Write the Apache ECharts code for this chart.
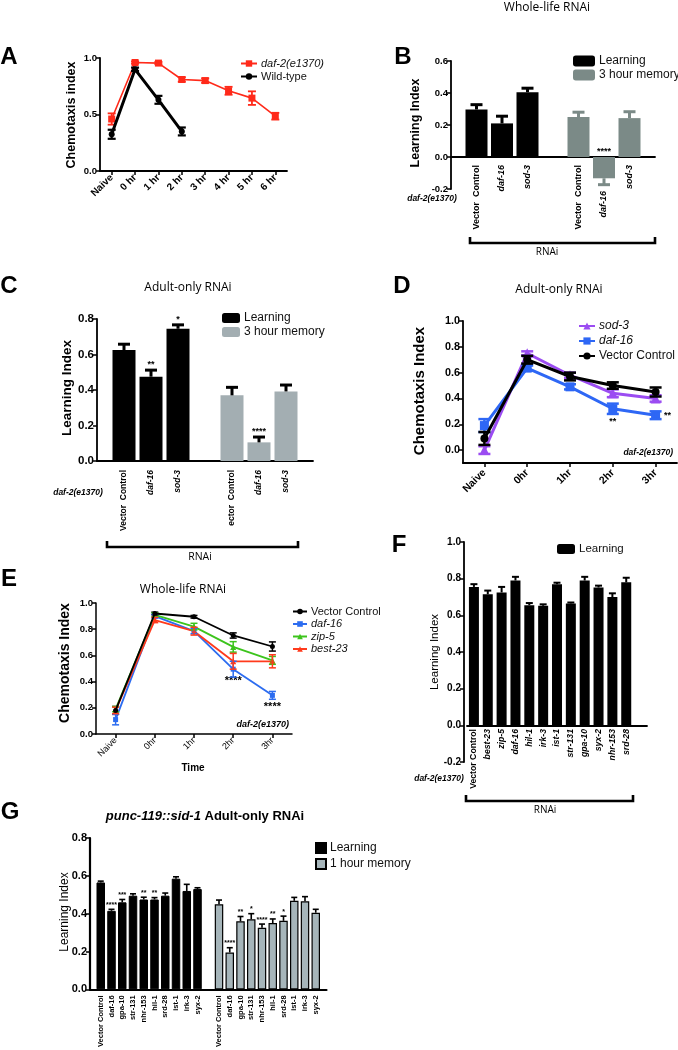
<!DOCTYPE html>
<html><head><meta charset="utf-8">
<script src="https://cdn.jsdelivr.net/npm/echarts@6.0.0/dist/echarts.min.js"></script>
<style>html,body{margin:0;padding:0;background:#fff}#c{width:678px;height:1050px}</style>
</head><body><div id="c"></div>
<script>
// ================= DATA =================
// Panel A
const A_CATS = ['Naive','0 hr','1 hr','2 hr','3 hr','4 hr','5 hr','6 hr'];
const A_DAF2 = [0.46,0.96,0.955,0.81,0.80,0.71,0.645,0.485];
const A_DAF2_ERR = [0.05,0.01,0.01,0.02,0.02,0.035,0.06,0.03];
const A_WT = [0.325,0.90,0.63,0.35];
const A_WT_ERR = [0.04,0.015,0.035,0.035];
// Panel B
const B_CATS = ['Vector  Control','daf-16','sod-3'];
const B_LEARN = [0.297,0.21,0.405];
const B_LEARN_ERR = [0.03,0.045,0.025];
const B_MEM = [0.25,-0.133,0.243];
const B_MEM_ERR = [0.03,0.04,0.04];
const B_MEM_STARS = ['','****',''];
// Panel C
const C_CATS_L = ['Vector  Control','daf-16','sod-3'];
const C_CATS_M = ['ector  Control','daf-16','sod-3'];
const C_LEARN = [0.625,0.475,0.745];
const C_LEARN_ERR = [0.033,0.037,0.022];
const C_LEARN_STARS = ['','**','*'];
const C_MEM = [0.37,0.105,0.392];
const C_MEM_ERR = [0.045,0.03,0.036];
const C_MEM_STARS = ['','****',''];
// Panel D
const D_CATS = ['Naive','0hr','1hr','2hr','3hr'];
const D_SOD3 = [0.0,0.75,0.58,0.44,0.40];
const D_SOD3_ERR = [0.03,0.015,0.02,0.03,0.025];
const D_DAF16 = [0.19,0.635,0.49,0.32,0.27];
const D_DAF16_ERR = [0.05,0.02,0.02,0.04,0.03];
const D_DAF16_STARS = ['','','','**','**'];
const D_VC = [0.09,0.70,0.57,0.50,0.45];
const D_VC_ERR = [0.05,0.03,0.03,0.025,0.035];
// Panel E
const E_CATS = ['Naive','0hr','1hr','2hr','3hr'];
const E_VC = [0.18,0.92,0.895,0.752,0.668];
const E_VC_ERR = [0.03,0.01,0.01,0.02,0.035];
const E_DAF16 = [0.11,0.90,0.785,0.495,0.295];
const E_DAF16_ERR = [0.04,0.015,0.02,0.06,0.03];
const E_DAF16_STARS = ['','','','****','****'];
const E_ZIP5 = [0.19,0.91,0.82,0.665,0.562];
const E_ZIP5_ERR = [0.02,0.015,0.025,0.04,0.03];
const E_BEST23 = [0.18,0.87,0.785,0.555,0.555];
const E_BEST23_ERR = [0.025,0.02,0.03,0.06,0.05];
// Panel F
const F_CATS = ['Vector Control','best-23','zip-5','daf-16','hil-1','irk-3','ist-1','str-131','gpa-10','syx-2','nhr-153','srd-28'];
const F_LEARN = [0.755,0.715,0.725,0.79,0.655,0.652,0.77,0.665,0.79,0.752,0.70,0.78];
const F_LEARN_ERR = [0.015,0.02,0.03,0.02,0.012,0.008,0.008,0.005,0.02,0.01,0.02,0.025];
// Panel G
const G_CATS = ['Vector Control','daf-16','gpa-10','str-131','nhr-153','hil-1','srd-28','ist-1','irk-3','syx-2'];
const G_LEARN = [0.565,0.415,0.46,0.495,0.475,0.475,0.495,0.585,0.52,0.53];
const G_LEARN_ERR = [0.007,0.008,0.015,0.01,0.012,0.01,0.014,0.01,0.035,0.007];
const G_LEARN_STARS = ['','****','***','','**','**','','','',''];
const G_MEM = [0.45,0.195,0.36,0.37,0.325,0.35,0.362,0.468,0.465,0.405];
const G_MEM_ERR = [0.022,0.025,0.025,0.03,0.02,0.022,0.025,0.018,0.025,0.018];
const G_MEM_STARS = ['','****','**','*','****','**','*','','',''];

// ================= HELPERS =================
const FONT = '"Liberation Sans", Arial, Helvetica, sans-serif';
const TFONT = '"Open Sans", "Liberation Sans", sans-serif';
const ITALIC = ['daf-2(e1370)','daf-16','sod-3','zip-5','best-23','hil-1','irk-3','ist-1','str-131','gpa-10','syx-2','nhr-153','srd-28'];
const baseName = n => n.split('#')[0];
const fmtItal = n => { const b = baseName(n); return ITALIC.includes(b) ? '{i|' + b + '}' : b; };
const pad = (arr, start, len) => { const o = new Array(len).fill('-'); arr.forEach((v, i) => { o[start + i] = v; }); return o; };

function yAx(gi, o) {
  return Object.assign({
    type: 'value', gridIndex: gi, splitLine: {show: false},
    axisLine: {show: true, onZero: false, lineStyle: {color: '#000', width: o.lw || 1.8}},
    axisTick: {show: true, length: 4, lineStyle: {color: '#000', width: 1.5}},
    axisLabel: {color: '#000', fontFamily: FONT, fontWeight: 'bold', fontSize: o.fs, margin: 3,
      showMinLabel: o.showMin !== false, formatter: v => (Math.abs(v) < 1e-9 ? 0 : v).toFixed(1)}
  }, o.extra || {});
}
function xAx(gi, data, o) {
  return {
    type: 'category', gridIndex: gi, data: data, boundaryGap: o.bg,
    axisLine: {show: true, onZero: !!o.onZero, lineStyle: {color: '#000', width: o.lw || 1.8}},
    axisTick: {show: !!o.ticks, alignWithLabel: true, length: 4, lineStyle: {color: '#000', width: 1.5}},
    axisLabel: Object.assign({interval: 0, color: '#000', fontFamily: FONT, fontWeight: o.fw || 'bold',
      fontSize: o.fs, rotate: o.rot, margin: o.margin, overflow: 'none',
      rich: {i: {fontStyle: 'italic', fontWeight: o.fw || 'bold', fontSize: o.fs, fontFamily: FONT, color: '#000'}}},
      o.italic ? {formatter: fmtItal} : {})
  };
}
// error bars via custom series (uses library coordinates)
function errBars(gi, vals, errs, color, opt) {
  const off = opt.offset || 0;
  const data = [];
  vals.forEach((v, i) => {
    if (v == null) return;
    if (opt.both) data.push([i + off, v - errs[i], v + errs[i]]);
    else data.push([i + off, v, v < 0 ? v - errs[i] : v + errs[i]]);
  });
  return {
    type: 'custom', xAxisIndex: gi, yAxisIndex: gi, z: opt.z || 5, silent: true,
    encode: {x: 0, y: [1, 2]}, data: data,
    renderItem: function (params, api) {
      const x = api.value(0), lo = api.value(1), hi = api.value(2);
      const a = api.coord([x, lo]), b = api.coord([x, hi]);
      const c = opt.cap, st = {stroke: color, lineWidth: opt.lw};
      const ch = [
        {type: 'line', shape: {x1: a[0], y1: a[1], x2: b[0], y2: b[1]}, style: st},
        {type: 'line', shape: {x1: b[0] - c, y1: b[1], x2: b[0] + c, y2: b[1]}, style: st}
      ];
      if (opt.both) ch.push({type: 'line', shape: {x1: a[0] - c, y1: a[1], x2: a[0] + c, y2: a[1]}, style: st});
      const s = opt.stars ? opt.stars[x - off] : '';
      if (s) {
        const ty = hi < 0 ? api.coord([x, 0])[1] : b[1];
        ch.push({type: 'text', x: b[0], y: ty - 1, style: {text: s, fill: '#000',
          font: 'bold ' + (opt.starFs || 9) + 'px ' + FONT, textAlign: 'center', textVerticalAlign: 'bottom'}});
      }
      return {type: 'group', children: ch};
    }
  };
}
function lineS(gi, name, vals, color, o) {
  return {type: 'line', name: name, xAxisIndex: gi, yAxisIndex: gi, data: vals, z: o.z || 4,
    symbol: o.symbol, symbolSize: o.size, showAllSymbol: true,
    lineStyle: {color: color, width: o.lw}, itemStyle: {color: color}};
}
function starLine(vals, stars, posFn, fs) {
  return vals.map((v, i) => stars[i] ? {value: v, label: {show: true, position: posFn(i), distance: 4,
    formatter: stars[i], fontFamily: FONT, fontWeight: 'bold', fontSize: fs, color: '#000'}} : v);
}

// ================= AXES / GRIDS =================
const B_AXIS = ['', ...B_CATS, ' ', ...B_CATS, '  '].map((c, i) => (i === 6 ? {value: c, textStyle: {padding: [0, 26, 0, 0]}} : c));
const C_AXIS = ['', ...C_CATS_L, ' ', ...C_CATS_M, '  '];
const F_AXIS = [...F_CATS, ' '];
const G_AXIS = ['', ...G_CATS, ' ', ...G_CATS, '  '];

const grids = [
  {left: 100, top: 58, width: 187, height: 113},   // A
  {left: 451, top: 61, width: 204, height: 128},   // B
  {left: 97, top: 319, width: 216, height: 142},   // C
  {left: 463, top: 321, width: 214, height: 142},  // D
  {left: 96, top: 603, width: 196, height: 131},   // E
  {left: 467, top: 542, width: 180, height: 220},  // F
  {left: 90, top: 838, width: 236.5, height: 153}  // G
];

// B and F: category labels sit just under the zero line, which lies above the grid bottom
const xAxes = [
  xAx(0, A_CATS, {bg: true, ticks: true, fs: 10, rot: 45, margin: 5}),
  xAx(1, B_AXIS, {bg: false, onZero: true, fs: 9, rot: 90, margin: -24, italic: true}),
  xAx(2, C_AXIS, {bg: false, fs: 8.5, rot: 90, margin: 9, italic: true}),
  xAx(3, D_CATS, {bg: true, ticks: true, fs: 10.5, rot: 45, margin: 8}),
  xAx(4, E_CATS, {bg: true, ticks: true, fs: 9, rot: 45, margin: 5, fw: 'normal', lw: 1.5}),
  xAx(5, F_AXIS, {bg: true, onZero: true, fs: 8.7, rot: 90, margin: -33, italic: true}),
  xAx(6, G_AXIS, {bg: false, fs: 7.5, rot: 90, margin: 6, lw: 2.2})
];
const yAxes = [
  yAx(0, {fs: 9.5, extra: {min: 0, max: 1, interval: 0.5}}),
  yAx(1, {fs: 9.5, extra: {min: -0.2, max: 0.6, interval: 0.2}}),
  yAx(2, {fs: 11.5, extra: {min: 0, max: 0.8, interval: 0.2}}),
  yAx(3, {fs: 10.8, showMin: false, extra: {min: -0.1, max: 1.0, splitNumber: 5}}),
  yAx(4, {fs: 9.5, lw: 1.5, extra: {min: 0, max: 1, interval: 0.2}}),
  yAx(5, {fs: 10, extra: {min: -0.2, max: 1.0, interval: 0.2, offset: 3}}),
  yAx(6, {fs: 11, lw: 2.2, extra: {min: 0, max: 0.8, interval: 0.2}})
];

// ================= COLORS =================
const RED_A = '#ff2a1a', B_MEM_COL = '#7b8a87', C_MEM_COL = '#a3aeb2', G_MEM_COL = '#a6b5ba';
const PURPLE = '#9b4cf2', BLUE = '#2e67f5', E_BLUE = '#2c6cf0', GREEN = '#3cc41c', E_RED = '#ff3a1c';

// ================= SERIES =================
const series = [
  // A
  lineS(0, 'daf-2(e1370)#A', A_DAF2, RED_A, {symbol: 'rect', size: 7, lw: 1.6}),
  lineS(0, 'Wild-type#A', A_WT, '#000', {symbol: 'circle', size: 6, lw: 3, z: 5}),
  errBars(0, A_DAF2, A_DAF2_ERR, RED_A, {both: true, cap: 4, lw: 1.8}),
  errBars(0, A_WT, A_WT_ERR, '#000', {both: true, cap: 4, lw: 2.2}),
  // B
  {type: 'bar', name: 'Learning#B', xAxisIndex: 1, yAxisIndex: 1, barWidth: 22, barGap: '-100%',
    data: pad(B_LEARN, 1, 9), itemStyle: {color: '#000'}},
  {type: 'bar', name: '3 hour memory#B', xAxisIndex: 1, yAxisIndex: 1, barWidth: 22, barGap: '-100%',
    data: pad(B_MEM, 5, 9), itemStyle: {color: B_MEM_COL}},
  errBars(1, B_LEARN, B_LEARN_ERR, '#000', {offset: 1, cap: 6, lw: 3}),
  errBars(1, B_MEM, B_MEM_ERR, B_MEM_COL, {offset: 5, cap: 6, lw: 3, stars: B_MEM_STARS, starFs: 9}),
  // C
  {type: 'bar', name: 'Learning#C', xAxisIndex: 2, yAxisIndex: 2, barWidth: 23, barGap: '-100%',
    data: pad(C_LEARN, 1, 9), itemStyle: {color: '#000'}},
  {type: 'bar', name: '3 hour memory#C', xAxisIndex: 2, yAxisIndex: 2, barWidth: 23, barGap: '-100%',
    data: pad(C_MEM, 5, 9), itemStyle: {color: C_MEM_COL}},
  errBars(2, C_LEARN, C_LEARN_ERR, '#000', {offset: 1, cap: 6, lw: 3, stars: C_LEARN_STARS}),
  errBars(2, C_MEM, C_MEM_ERR, '#000', {offset: 5, cap: 6, lw: 3, stars: C_MEM_STARS}),
  // D
  lineS(3, 'sod-3#D', D_SOD3, PURPLE, {symbol: 'triangle', size: 10, lw: 3}),
  Object.assign(lineS(3, 'daf-16#D', D_DAF16, BLUE, {symbol: 'rect', size: 9, lw: 3}),
    {data: starLine(D_DAF16, D_DAF16_STARS, i => (i === D_DAF16.length - 1 ? 'right' : 'bottom'), 9)}),
  lineS(3, 'Vector Control#D', D_VC, '#000', {symbol: 'circle', size: 8, lw: 3, z: 6}),
  errBars(3, D_SOD3, D_SOD3_ERR, PURPLE, {both: true, cap: 6, lw: 2.5}),
  errBars(3, D_DAF16, D_DAF16_ERR, BLUE, {both: true, cap: 6, lw: 2.5}),
  errBars(3, D_VC, D_VC_ERR, '#000', {both: true, cap: 6, lw: 2.5, z: 7}),
  // E
  lineS(4, 'Vector Control#E', E_VC, '#000', {symbol: 'circle', size: 5, lw: 1.8, z: 6}),
  Object.assign(lineS(4, 'daf-16#E', E_DAF16, E_BLUE, {symbol: 'rect', size: 5, lw: 1.8}),
    {data: starLine(E_DAF16, E_DAF16_STARS, () => 'bottom', 11)}),
  lineS(4, 'zip-5#E', E_ZIP5, GREEN, {symbol: 'triangle', size: 6, lw: 1.8}),
  lineS(4, 'best-23#E', E_BEST23, E_RED, {symbol: 'triangle', size: 6, lw: 1.8}),
  errBars(4, E_VC, E_VC_ERR, '#000', {both: true, cap: 3.5, lw: 1.5}),
  errBars(4, E_DAF16, E_DAF16_ERR, E_BLUE, {both: true, cap: 3.5, lw: 1.5}),
  errBars(4, E_ZIP5, E_ZIP5_ERR, GREEN, {both: true, cap: 3.5, lw: 1.5}),
  errBars(4, E_BEST23, E_BEST23_ERR, E_RED, {both: true, cap: 3.5, lw: 1.5}),
  // F
  {type: 'bar', name: 'Learning#F', xAxisIndex: 5, yAxisIndex: 5, barWidth: 10,
    data: F_LEARN, itemStyle: {color: '#000'}},
  errBars(5, F_LEARN, F_LEARN_ERR, '#000', {cap: 3.5, lw: 2}),
  // G
  {type: 'bar', name: 'Learning#G', xAxisIndex: 6, yAxisIndex: 6, barWidth: 8.5, barGap: '-100%',
    data: pad(G_LEARN, 1, 23), itemStyle: {color: '#000', borderColor: '#000', borderWidth: 1}},
  {type: 'bar', name: '1 hour memory#G', xAxisIndex: 6, yAxisIndex: 6, barWidth: 8.5, barGap: '-100%',
    data: pad(G_MEM, 12, 23), itemStyle: {color: G_MEM_COL, borderColor: '#000', borderWidth: 1.2}},
  errBars(6, G_LEARN, G_LEARN_ERR, '#000', {offset: 1, cap: 3, lw: 1.6, stars: G_LEARN_STARS, starFs: 7}),
  errBars(6, G_MEM, G_MEM_ERR, '#000', {offset: 12, cap: 3, lw: 1.6, stars: G_MEM_STARS, starFs: 7})
];

// ================= LEGENDS =================
function leg(o) {
  return {orient: 'vertical', left: o.left, top: o.top, padding: 0, itemGap: o.gap, itemWidth: o.w, itemHeight: o.h,
    icon: o.icon, data: o.data, selectedMode: false, formatter: fmtItal,
    textStyle: {fontFamily: o.font || FONT, fontSize: o.fs, color: '#111', padding: [0, 0, 0, -1],
      rich: {i: {fontStyle: 'italic', fontFamily: o.font || FONT, fontSize: o.fs, color: '#111'}}}};
}
const legends = [
  leg({left: 240, top: 58, gap: 2, w: 16, h: 8, fs: 11, data: ['daf-2(e1370)#A', 'Wild-type#A']}),
  leg({left: 573, top: 55, gap: 2, w: 22, h: 11, fs: 12, icon: 'roundRect', data: ['Learning#B', '3 hour memory#B']}),
  leg({left: 222, top: 312, gap: 2, w: 18, h: 10, fs: 12, icon: 'roundRect', data: ['Learning#C', '3 hour memory#C']}),
  leg({left: 578, top: 320, gap: 3, w: 16, h: 9, fs: 12, data: ['sod-3#D', 'daf-16#D', 'Vector Control#D']}),
  leg({left: 292, top: 606, gap: 1.5, w: 14, h: 7, fs: 11, data: ['Vector Control#E', 'daf-16#E', 'zip-5#E', 'best-23#E']}),
  leg({left: 557, top: 543, gap: 2, w: 18, h: 10, fs: 11.5, icon: 'roundRect', data: ['Learning#F']}),
  leg({left: 315, top: 842, gap: 4, w: 10, h: 10, fs: 12, icon: 'rect', data: ['Learning#G', '1 hour memory#G']})
];

// ================= TEXT / ANNOTATIONS =================
function txt(x, y, text, font, align, rot, rich) {
  const el = {type: 'text', x: x, y: y, silent: true, style: {text: text, font: font, fill: '#000',
    textAlign: align || 'center', textVerticalAlign: 'middle'}};
  if (rot) el.rotation = rot;
  if (rich) el.style.rich = rich;
  return el;
}
function bracket(x1, x2, y, h) {
  return {type: 'polyline', silent: true, shape: {points: [[x1, y - h], [x1, y], [x2, y], [x2, y - h]]},
    style: {stroke: '#000', lineWidth: 2.6, fill: null}};
}
const R90 = Math.PI / 2;
const graphic = [
  txt(9, 57, 'A', 'bold 24px ' + FONT), txt(403, 57, 'B', 'bold 24px ' + FONT),
  txt(9, 286, 'C', 'bold 24px ' + FONT), txt(402, 286, 'D', 'bold 24px ' + FONT),
  txt(9, 579, 'E', 'bold 24px ' + FONT), txt(399, 545, 'F', 'bold 24px ' + FONT),
  txt(10, 812, 'G', 'bold 24px ' + FONT),
  txt(547, 8, 'Whole-life RNAi', '12px ' + TFONT),
  txt(188, 288, 'Adult-only RNAi', '12px ' + TFONT),
  txt(559, 290, 'Adult-only RNAi', '12px ' + TFONT),
  txt(183, 590, 'Whole-life RNAi', '12px ' + TFONT),
  txt(205, 816, '{i|punc-119::sid-1} Adult-only RNAi', 'bold 13px ' + FONT, 'center', 0,
    {i: {fontStyle: 'italic', fontWeight: 'bold', fontSize: 13, fontFamily: FONT}}),
  // axis titles
  txt(72, 115, 'Chemotaxis index', 'bold 12.5px ' + FONT, 'center', R90),
  txt(416, 123, 'Learning Index', 'bold 12.5px ' + FONT, 'center', R90),
  txt(67, 388, 'Learning Index', 'bold 13.5px ' + FONT, 'center', R90),
  txt(420, 391, 'Chemotaxis Index', 'bold 15px ' + FONT, 'center', R90),
  txt(65, 663, 'Chemotaxis Index', 'bold 14px ' + FONT, 'center', R90),
  txt(435, 652, 'Learning Index', '11.5px ' + FONT, 'center', R90),
  txt(65, 912, 'Learning Index', '12px ' + FONT, 'center', R90),
  txt(193, 768, 'Time', 'bold 10px ' + FONT),
  // strain labels
  txt(432, 199, 'daf-2(e1370)', 'italic bold 8.5px ' + FONT),
  txt(78, 493, 'daf-2(e1370)', 'italic bold 8.5px ' + FONT),
  txt(673, 453, 'daf-2(e1370)', 'italic bold 8.5px ' + FONT, 'right'),
  txt(289, 725, 'daf-2(e1370)', 'italic bold 9px ' + FONT, 'right'),
  txt(439, 779, 'daf-2(e1370)', 'italic bold 8.5px ' + FONT),
  // RNAi brackets
  bracket(470, 655, 243, 6), txt(547, 252, 'RNAi', '10px ' + TFONT),
  bracket(107, 298, 547, 6), txt(200, 557, 'RNAi', '10.5px ' + TFONT),
  bracket(466, 633, 801, 6), txt(545, 810, 'RNAi', '10px ' + TFONT)
];

const chart = echarts.init(document.getElementById('c'), null, {renderer: 'canvas', width: 678, height: 1050});
chart.setOption({
  animation: false, backgroundColor: '#fff', textStyle: {fontFamily: FONT},
  grid: grids, xAxis: xAxes, yAxis: yAxes, legend: legends, series: series, graphic: graphic
});
</script></body></html>
